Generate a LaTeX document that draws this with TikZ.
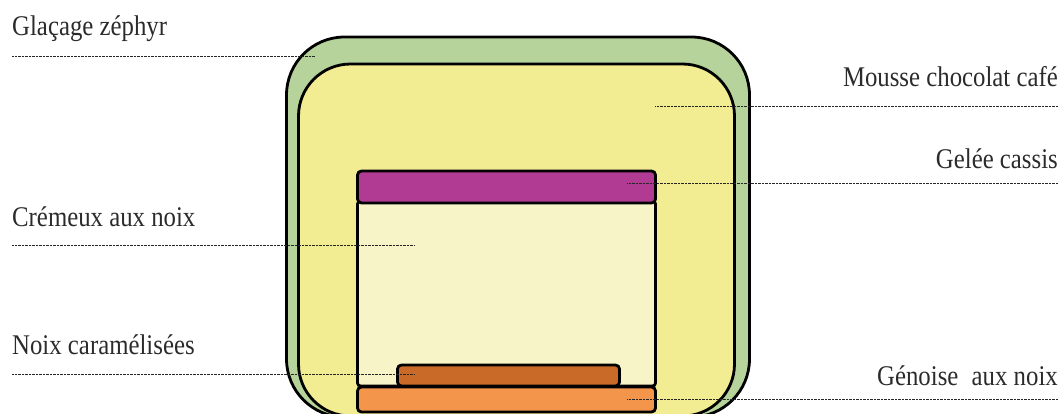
\documentclass[tikz,border=0pt]{standalone}
\usepackage{fontspec}
\setmainfont{Liberation Serif}[FakeStretch=0.87]
\definecolor{glaze}{HTML}{B6D39C}
\definecolor{mousse}{HTML}{F2EC93}
\definecolor{cremeux}{HTML}{F7F5C7}
\definecolor{cassis}{HTML}{B13A92}
\definecolor{caramel}{HTML}{C96A28}
\definecolor{genoise}{HTML}{F4954C}
\definecolor{labeltxt}{HTML}{2B2B2B}
\tikzset{
  layer/.style={draw=black, line width=2.8pt, inner sep=0pt, outer sep=0pt, rectangle},
  label/.style={inner sep=0pt, text=labeltxt, font=\fontsize{28.5}{30}\selectfont},
  leader/.style={draw=black!85, line width=0.9pt, dash pattern=on 0.8pt off 0.6pt},
}
\begin{document}
\begin{tikzpicture}[x=1pt,y=-1pt]
\useasboundingbox (0,0) rectangle (1063,413);
\clip (0,0) rectangle (1063,413);
% layers
\node[layer, fill=glaze, rounded corners=58pt, anchor=north west, minimum width=463pt, minimum height=380pt] (glaze) at (286.5,37) {};
\node[layer, fill=mousse, rounded corners=52pt, anchor=north west, minimum width=436pt, minimum height=352pt] (mousse) at (298.5,64) {};
\node[layer, fill=cremeux, rounded corners=3pt, anchor=north west, minimum width=298pt, minimum height=185pt] (cremeux) at (357.5,201) {};
\node[layer, fill=cassis, rounded corners=4pt, anchor=north west, minimum width=298pt, minimum height=32pt] (cassis) at (357.5,171) {};
\node[layer, fill=caramel, rounded corners=4pt, anchor=north west, minimum width=222pt, minimum height=21pt] (caramel) at (397.5,365) {};
\node[layer, fill=genoise, rounded corners=4pt, anchor=north west, minimum width=298pt, minimum height=25pt] (genoise) at (357.5,387) {};
% labels
\node[label, anchor=base west] (lglaze) at (12,35) {Glaçage zéphyr};
\node[label, anchor=base east] (lmousse) at (1058,86) {Mousse chocolat café};
\node[label, anchor=base east] (lcassis) at (1058,168) {Gelée cassis};
\node[label, anchor=base west] (lcremeux) at (12,226) {Crémeux aux noix};
\node[label, anchor=base west] (lcaramel) at (12,354) {Noix caramélisées};
\node[label, anchor=base east] (lgenoise) at (1058,385) {Génoise\hspace{0.25em} aux noix};
% leader endpoints
\coordinate (eglazeA) at (12,56);   \coordinate (eglazeB) at (315,56);
\coordinate (emousseA) at (1058,106); \coordinate (emousseB) at (655,106);
\coordinate (ecassisA) at (1058,183); \coordinate (ecassisB) at (627,183);
\coordinate (ecremeuxA) at (12,245); \coordinate (ecremeuxB) at (415,245);
\coordinate (ecaramelA) at (12,374); \coordinate (ecaramelB) at (415,374);
\coordinate (egenoiseA) at (1058,399); \coordinate (egenoiseB) at (627,399);
% leaders
\draw[leader] (eglazeA) -- (eglazeB);
\draw[leader] (emousseA) -- (emousseB);
\draw[leader] (ecassisA) -- (ecassisB);
\draw[leader] (ecremeuxA) -- (ecremeuxB);
\draw[leader] (ecaramelA) -- (ecaramelB);
\draw[leader] (egenoiseA) -- (egenoiseB);
\end{tikzpicture}
\end{document}
